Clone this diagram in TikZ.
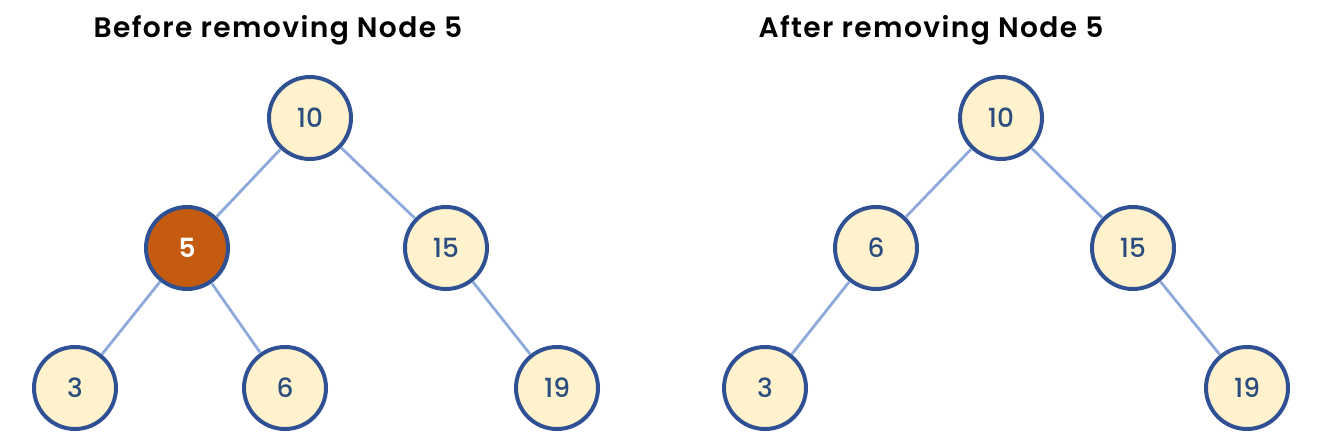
\documentclass[tikz,border=0pt]{standalone}
\usepackage{fontspec}
\setmainfont{Poppins}[BoldFont={Poppins SemiBold}]
\newfontfamily\numfont{Poppins Medium}
\definecolor{nodefill}{HTML}{FFF2CC}
\definecolor{nodeborder}{HTML}{2F5193}
\definecolor{numtext}{HTML}{2B4C7E}
\definecolor{edgecol}{HTML}{8EAADB}
\definecolor{remfill}{HTML}{C55A11}
\tikzset{
  tnode/.style={circle, draw=nodeborder, line width=3.4pt, fill=nodefill, minimum size=2.46cm, inner sep=0pt, text=numtext, font=\numfont\fontsize{22.5}{25}\selectfont},
  remnode/.style={tnode, fill=remfill, text=white, font=\fontsize{22.5}{25}\selectfont\bfseries},
  tedge/.style={draw=edgecol, line width=2.4pt},
  title/.style={font=\fontsize{24}{27}\selectfont\bfseries\addfontfeature{LetterSpace=5}, text=black, inner sep=0pt}
}
\begin{document}
\begin{tikzpicture}[x=0.03cm,y=-0.03cm]
\useasboundingbox (0,0) rectangle (1329,447);
\node[title] (t1) at (278,30) {Before removing Node 5};
\node[title] (t2) at (931,30) {After removing Node 5};
% left tree
\node[tnode] (a10) at (310,118) {10};
\node[remnode] (a5) at (187,248) {5};
\node[tnode] (a15) at (446,248) {15};
\node[tnode] (a3) at (75,388) {3};
\node[tnode] (a6) at (285,388) {6};
\node[tnode] (a19) at (557,388) {19};
% right tree
\node[tnode] (b10) at (1001,118) {10};
\node[tnode] (b6) at (876,248) {6};
\node[tnode] (b15) at (1133,248) {15};
\node[tnode] (b3) at (765,388) {3};
\node[tnode] (b19) at (1247,388) {19};
\path[tedge] (a10) -- (a5);
\path[tedge] (a10) -- (a15);
\path[tedge] (a5) -- (a3);
\path[tedge] (a5) -- (a6);
\path[tedge] (a15) -- (a19);
\path[tedge] (b10) -- (b6);
\path[tedge] (b10) -- (b15);
\path[tedge] (b6) -- (b3);
\path[tedge] (b15) -- (b19);
\end{tikzpicture}
\end{document}
